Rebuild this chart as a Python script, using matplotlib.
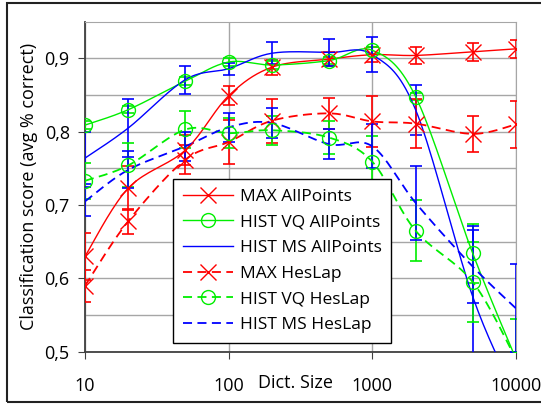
import numpy as np
import matplotlib
matplotlib.use("Agg")
import matplotlib.pyplot as plt
from matplotlib.patches import Rectangle

plt.rcParams['font.family'] = ['Open Sans', 'DejaVu Sans']

dict_size = [10, 20, 50, 100, 200, 500, 1000, 2000, 5000, 10000]

max_all = [0.630, 0.723, 0.775, 0.849, 0.888, 0.899, 0.905, 0.904, 0.909, 0.913]
max_all_err = [0.032, 0.030, 0.020, 0.013, 0.010, 0.010, 0.010, 0.012, 0.012, 0.012]
vq_all = [0.809, 0.830, 0.869, 0.895, 0.891, 0.897, 0.911, 0.848, 0.634, 0.490]
vq_all_err = [0.005, 0.005, 0.005, 0.005, 0.005, 0.005, 0.005, 0.005, 0.040, 0.0]
ms_all = [0.764, 0.805, 0.871, 0.886, 0.907, 0.908, 0.905, 0.830, 0.575, 0.440]
ms_all_err = [0.035, 0.040, 0.019, 0.008, 0.015, 0.018, 0.024, 0.034, 0.096, 0.0]
max_hes = [0.590, 0.678, 0.762, 0.786, 0.815, 0.825, 0.814, 0.811, 0.797, 0.810]
max_hes_err = [0.022, 0.017, 0.020, 0.030, 0.030, 0.021, 0.035, 0.033, 0.025, 0.032]
vq_hes = [0.733, 0.754, 0.803, 0.798, 0.802, 0.792, 0.759, 0.665, 0.595, 0.490]
vq_hes_err = [0.025, 0.030, 0.025, 0.020, 0.020, 0.022, 0.035, 0.042, 0.055, 0.055]
ms_hes = [0.705, 0.748, 0.780, 0.806, 0.812, 0.783, 0.780, 0.703, 0.616, 0.559]
ms_hes_err = [0.020, 0.025, 0.020, 0.020, 0.020, 0.020, 0.030, 0.050, 0.050, 0.060]

series = [
    ("MAX AllPoints", max_all, max_all_err, '#FF0000', '-', 'x'),
    ("HIST VQ AllPoints", vq_all, vq_all_err, '#00EE00', '-', 'o'),
    ("HIST MS AllPoints", ms_all, ms_all_err, '#0000FF', '-', None),
    ("MAX HesLap", max_hes, max_hes_err, '#FF0000', '--', 'x'),
    ("HIST VQ HesLap", vq_hes, vq_hes_err, '#00EE00', '--', 'o'),
    ("HIST MS HesLap", ms_hes, ms_hes_err, '#0000FF', '--', None),
]


def smooth(x, y, n=20):
    # catmull-rom through the points in log-x space (excel style smoothed line)
    lx = np.log10(np.asarray(x, float))
    y = np.asarray(y, float)
    px = np.concatenate([[lx[0]], lx, [lx[-1]]])
    py = np.concatenate([[y[0]], y, [y[-1]]])
    xs, ys = [], []
    t = np.linspace(0, 1, n)
    for i in range(1, len(px) - 2):
        p0x, p1x, p2x, p3x = px[i - 1:i + 3]
        p0y, p1y, p2y, p3y = py[i - 1:i + 3]
        b1x, b1y = p1x + (p2x - p0x) / 6, p1y + (p2y - p0y) / 6
        b2x, b2y = p2x - (p3x - p1x) / 6, p2y - (p3y - p1y) / 6
        bx = (1-t)**3*p1x + 3*(1-t)**2*t*b1x + 3*(1-t)*t**2*b2x + t**3*p2x
        by = (1-t)**3*p1y + 3*(1-t)**2*t*b1y + 3*(1-t)*t**2*b2y + t**3*p2y
        xs.extend(bx)
        ys.extend(by)
    return 10 ** np.array(xs), np.array(ys)


fig = plt.figure(figsize=(5.41, 4.04), dpi=100)
ax = fig.add_axes([85/541, 1-351.7/404, 431/541, 330/404])

for label, vals, err, col, ls, mk in series:
    ax.errorbar(dict_size, vals, yerr=err, fmt='none', ecolor=col,
                elinewidth=1.2, capsize=4, capthick=1.2, zorder=3)
    sx, sy = smooth(dict_size, vals)
    if ls == '--':
        ax.plot(sx, sy, color=col, lw=1.3, dashes=(5, 3), zorder=4)
    else:
        ax.plot(sx, sy, color=col, lw=1.0, zorder=4)
    if mk is not None:
        ax.plot(dict_size, vals, linestyle='none', marker=mk, ms=11 if mk == 'x' else 10,
                mfc='none', mec=col, mew=1.0, zorder=5)
    # legend proxy
    ax.plot([], [], color=col, lw=1.0 if ls == '-' else 1.3,
            linestyle=ls if ls == '-' else (0, (5, 3)),
            marker=mk, ms=11 if mk == 'x' else 10, mfc='none', mew=1.0, label=label)

ax.set_xscale('log')
ax.set_xlim(10, 10000)
ax.set_ylim(0.5, 0.95)
ax.set_xticks([10, 100, 1000, 10000])
ax.set_xticklabels(['10', '100', '1000', '10000'])
ax.xaxis.set_minor_locator(plt.NullLocator())
ax.set_yticks([0.5, 0.6, 0.7, 0.8, 0.9])
ax.set_yticklabels(['0,5', '0,6', '0,7', '0,8', '0,9'])
for yv in [0.55, 0.65, 0.75, 0.85]:
    ax.axhline(yv, color='#A6A6A6', lw=1.0, zorder=1)
ax.grid(True, color='#A6A6A6', lw=1.0, zorder=1)
ax.set_axisbelow(True)
ax.tick_params(axis='x', length=5, pad=13, labelsize=13, color='#404040')
ax.tick_params(axis='y', length=5, pad=6, labelsize=13, color='#404040')
for s in ['top', 'right']:
    ax.spines[s].set_color('#A6A6A6')
for s in ['left', 'bottom']:
    ax.spines[s].set_color('#404040')
    ax.spines[s].set_linewidth(1.3)

ax.set_ylabel('Classification score (avg % correct)', fontsize=13, labelpad=5)
fig.text(296/541, 1-383/404, 'Dict. Size', ha='center', va='center', fontsize=13)

leg = ax.legend(loc='upper left', bbox_to_anchor=((173-85)/431, (351.7-179)/330),
                fontsize=12.5, frameon=True, fancybox=False, framealpha=1,
                edgecolor='black', handlelength=2.9, labelspacing=0.55,
                borderpad=0.55, handletextpad=0.4, borderaxespad=0)
leg.get_frame().set_linewidth(1.0)
leg.set_zorder(10)

fig.patches.append(Rectangle((7/541, 1-401.7/404), 1.0, (401.7-3.3)/404,
                             transform=fig.transFigure, fill=False,
                             edgecolor='#222222', lw=1.5))

fig.savefig('out.png', dpi=100)
